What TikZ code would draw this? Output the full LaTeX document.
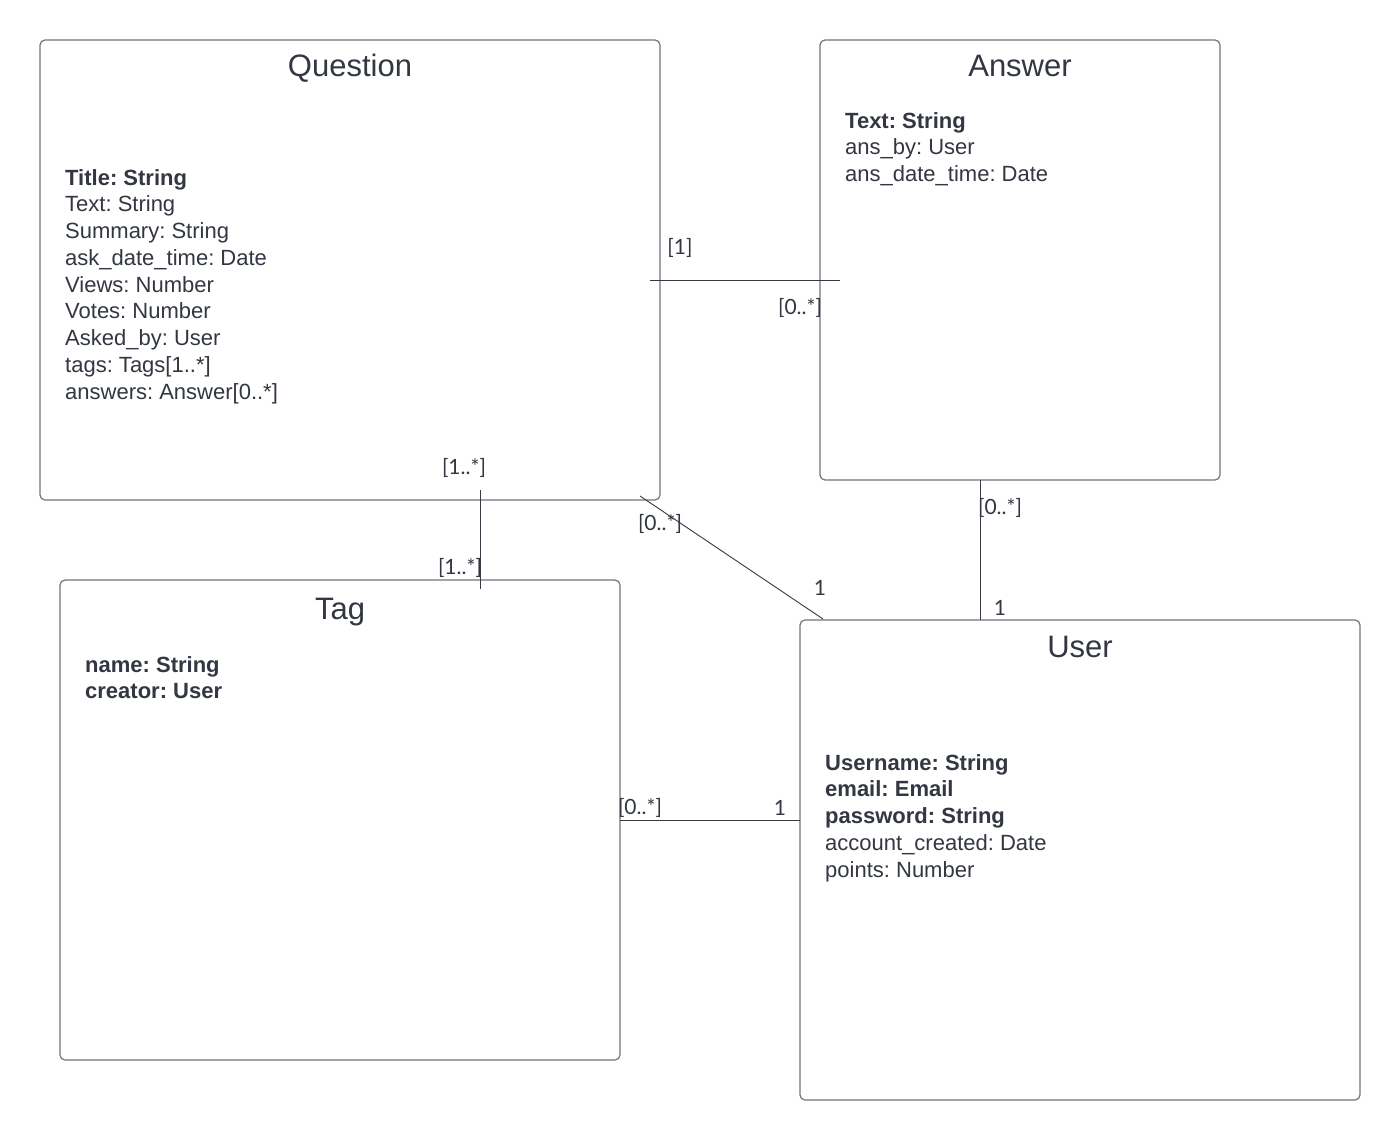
\documentclass[tikz,border=0pt]{standalone}
\usepackage{fontspec}
\setmainfont{Liberation Sans}
\newfontfamily\labfont{Lato}
\frenchspacing
\definecolor{txt}{RGB}{50,55,66}
\definecolor{bord}{RGB}{112,116,124}
\definecolor{conn}{RGB}{55,58,66}
\begin{document}
\begin{tikzpicture}[x=1pt,y=-1pt,
  classbox/.style={draw=bord,line width=1.2pt,rounded corners=5pt},
  ctitle/.style={font=\fontsize{31}{36}\selectfont,text=txt,inner sep=0pt,anchor=base},
  attr/.style={font=\fontsize{22}{26}\selectfont,text=txt,inner sep=0pt,anchor=base west},
  battr/.style={attr,font=\fontsize{22}{26}\selectfont\bfseries},
  mult/.style={font=\labfont\fontsize{21}{24}\selectfont,text=txt,inner sep=0pt},
  link/.style={draw=conn,line width=0.9pt}]
\useasboundingbox[fill=white] (0,0) rectangle (1400,1140);

% boxes
\draw[classbox] (40,40) rectangle (660,500);
\draw[classbox] (820,40) rectangle (1220,480);
\draw[classbox] (60,580) rectangle (620,1060);
\draw[classbox] (800,620) rectangle (1360,1100);

% titles
\node[ctitle] (tq) at (350,77) {Question};
\node[ctitle] (ta) at (1020,77) {Answer};
\node[ctitle] (tt) at (340,619) {Tag};
\node[ctitle] (tu) at (1080,657) {User};

% Question attributes
\node[battr] (q1) at (65,185) {Title: String};
\node[attr] (q2) at (65,211.75) {Text: String};
\node[attr] (q3) at (65,238.5) {Summary: String};
\node[attr] (q4) at (65,265.25) {ask\_date\_time: Date};
\node[attr] (q5) at (65,292) {Views: Number};
\node[attr] (q6) at (65,318.75) {Votes: Number};
\node[attr] (q7) at (65,345.5) {Asked\_by: User};
\node[attr] (q8) at (65,372.25) {tags: Tags[1..*]};
\node[attr] (q9) at (65,399) {answers: Answer[0..*]};

% Answer attributes
\node[battr] (a1) at (845,128) {Text: String};
\node[attr] (a2) at (845,154.75) {ans\_by: User};
\node[attr] (a3) at (845,181.5) {ans\_date\_time: Date};

% Tag attributes
\node[battr] (g1) at (85,672) {name: String};
\node[battr] (g2) at (85,698.75) {creator: User};

% User attributes
\node[battr] (u1) at (825,770) {Username: String};
\node[battr] (u2) at (825,796.75) {email: Email};
\node[battr] (u3) at (825,823.5) {password: String};
\node[attr] (u4) at (825,850.25) {account\_created: Date};
\node[attr] (u5) at (825,877) {points: Number};

% connector end points
\coordinate (qaA) at (650,280);
\coordinate (qaB) at (840,280);
\coordinate (qtA) at (480,490);
\coordinate (qtB) at (480,589);
\coordinate (quA) at (640,496);
\coordinate (quB) at (823,619);
\coordinate (auA) at (980,480);
\coordinate (auB) at (980,620);
\coordinate (tuA) at (620,820);
\coordinate (tuB) at (800,820);

\draw[link] (qaA) -- (qaB);
\draw[link] (qtA) -- (qtB);
\draw[link] (quA) -- (quB);
\draw[link] (auA) -- (auB);
\draw[link] (tuA) -- (tuB);

% multiplicities
\node[mult] (m1) at (680,248) {[1]};
\node[mult] (m2) at (800,308) {[0..*]};
\node[mult] (m3) at (464,468) {[1..*]};
\node[mult] (m4) at (460,568) {[1..*]};
\node[mult] (m5) at (660,524) {[0..*]};
\node[mult] (m6) at (820,588) {1};
\node[mult] (m7) at (1000,508) {[0..*]};
\node[mult] (m8) at (1000,608) {1};
\node[mult] (m9) at (640,808) {[0..*]};
\node[mult] (m10) at (780,808) {1};
\end{tikzpicture}
\end{document}
